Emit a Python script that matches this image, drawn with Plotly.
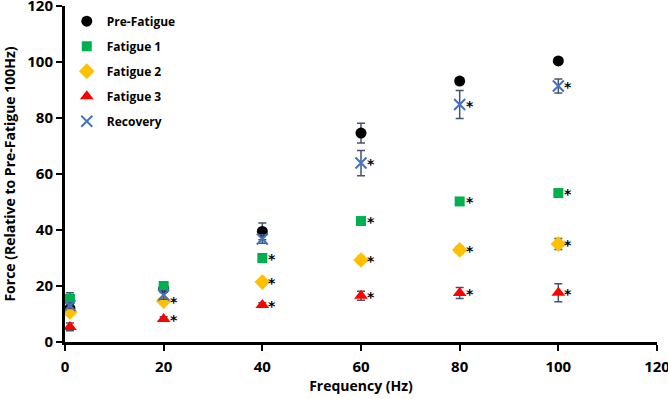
import plotly.graph_objects as go

freq = [1, 20, 40, 60, 80, 100]
series_names = ["Pre-Fatigue", "Fatigue 1", "Fatigue 2", "Fatigue 3", "Recovery"]
pre_fatigue = [12.0, 19.0, 39.5, 74.6, 93.2, 100.4]
pre_fatigue_err = [1.5, 1.0, 3.0, 3.5, 1.0, 1.0]
fatigue1 = [15.4, 20.0, 30.0, 43.2, 50.2, 53.2]
fatigue1_err = [2.2, 1.0, 1.0, 1.0, 1.0, 1.0]
fatigue2 = [10.7, 14.6, 21.4, 29.3, 32.9, 35.0]
fatigue2_err = [1.0, 1.0, 1.0, 1.2, 1.2, 2.0]
fatigue3 = [5.4, 8.2, 13.2, 16.5, 17.5, 17.6]
fatigue3_err = [1.4, 0.8, 0.8, 1.6, 2.0, 3.2]
recovery = [13.0, 16.8, 36.8, 63.9, 84.8, 91.4]
recovery_err = [1.0, 1.5, 1.5, 4.5, 5.0, 2.5]
# significance markers (asterisks)
fatigue1_sig = ["", "", "*", "*", "*", "*"]
fatigue2_sig = ["", "*", "*", "*", "*", "*"]
fatigue3_sig = ["", "*", "*", "*", "*", "*"]
recovery_sig = ["", "", "", "*", "*", "*"]

x_ticks = [0, 20, 40, 60, 80, 100, 120]
y_ticks = [0, 20, 40, 60, 80, 100, 120]

err_color = "#44546A"
font_family = "'Open Sans', Lato, sans-serif"

styles = [
    dict(symbol="circle", size=11, color="#000000"),
    dict(symbol="square", size=10, color="#00B050"),
    dict(symbol="diamond", size=12, color="#FFC000"),
    dict(symbol="triangle-up", size=12, color="#FF0000"),
    dict(symbol="x-thin", size=11, color="#4472C4"),
]
values = [pre_fatigue, fatigue1, fatigue2, fatigue3, recovery]
errors = [pre_fatigue_err, fatigue1_err, fatigue2_err, fatigue3_err, recovery_err]
sigs = [None, fatigue1_sig, fatigue2_sig, fatigue3_sig, recovery_sig]

fig = go.Figure()
for name, vals, errs, st in zip(series_names, values, errors, styles):
    marker = dict(symbol=st["symbol"], size=st["size"], color=st["color"])
    if st["symbol"] == "x-thin":
        marker["line"] = dict(color=st["color"], width=2)
    fig.add_trace(go.Scatter(
        x=freq, y=vals, mode="markers", name=name, legendgroup=name,
        marker=marker,
        error_y=dict(type="data", array=errs, visible=True, color=err_color,
                     thickness=1.5, width=4),
    ))

annotations = []
for vals, sig in zip(values, sigs):
    if sig is None:
        continue
    for xv, yv, s in zip(freq, vals, sig):
        if s:
            annotations.append(dict(
                x=xv, y=yv, xref="x", yref="y", text=s, showarrow=False,
                xshift=10, yshift=-1,
                font=dict(family="DejaVu Sans", size=14, color="#000000", weight="bold"),
            ))

axis_common = dict(
    showline=True, linecolor="#000000", linewidth=3,
    ticks="outside", ticklen=6, tickwidth=2, tickcolor="#000000",
    showgrid=False, zeroline=False, ticklabeloverflow="allow", automargin=False,
    tickfont=dict(family=font_family, size=15, color="#000000", weight="bold"),
)

fig.update_layout(
    width=668, height=399,
    margin=dict(l=65, r=11, t=6, b=57),
    paper_bgcolor="white", plot_bgcolor="white",
    xaxis=dict(range=[0, 120], tickvals=x_ticks, ticklabelstandoff=3, **axis_common,
               title=dict(text="Frequency (Hz)", standoff=6,
                          font=dict(family=font_family, size=14, color="#000000", weight="bold"))),
    yaxis=dict(range=[0, 120], tickvals=y_ticks, **axis_common,
               title=dict(text="Force (Relative to Pre-Fatigue 100Hz)", standoff=10,
                          font=dict(family=font_family, size=14, color="#000000", weight="bold"))),
    legend=dict(x=0.003, y=0.998, xanchor="left", yanchor="top", itemwidth=30,
                bgcolor="rgba(0,0,0,0)", tracegroupgap=6,
                font=dict(family=font_family, size=12, color="#000000", weight="bold")),
    annotations=annotations,
    showlegend=True,
)

fig.write_html("out.html", config={"displayModeBar": False},
               post_script="document.body.style.margin='0px';")
